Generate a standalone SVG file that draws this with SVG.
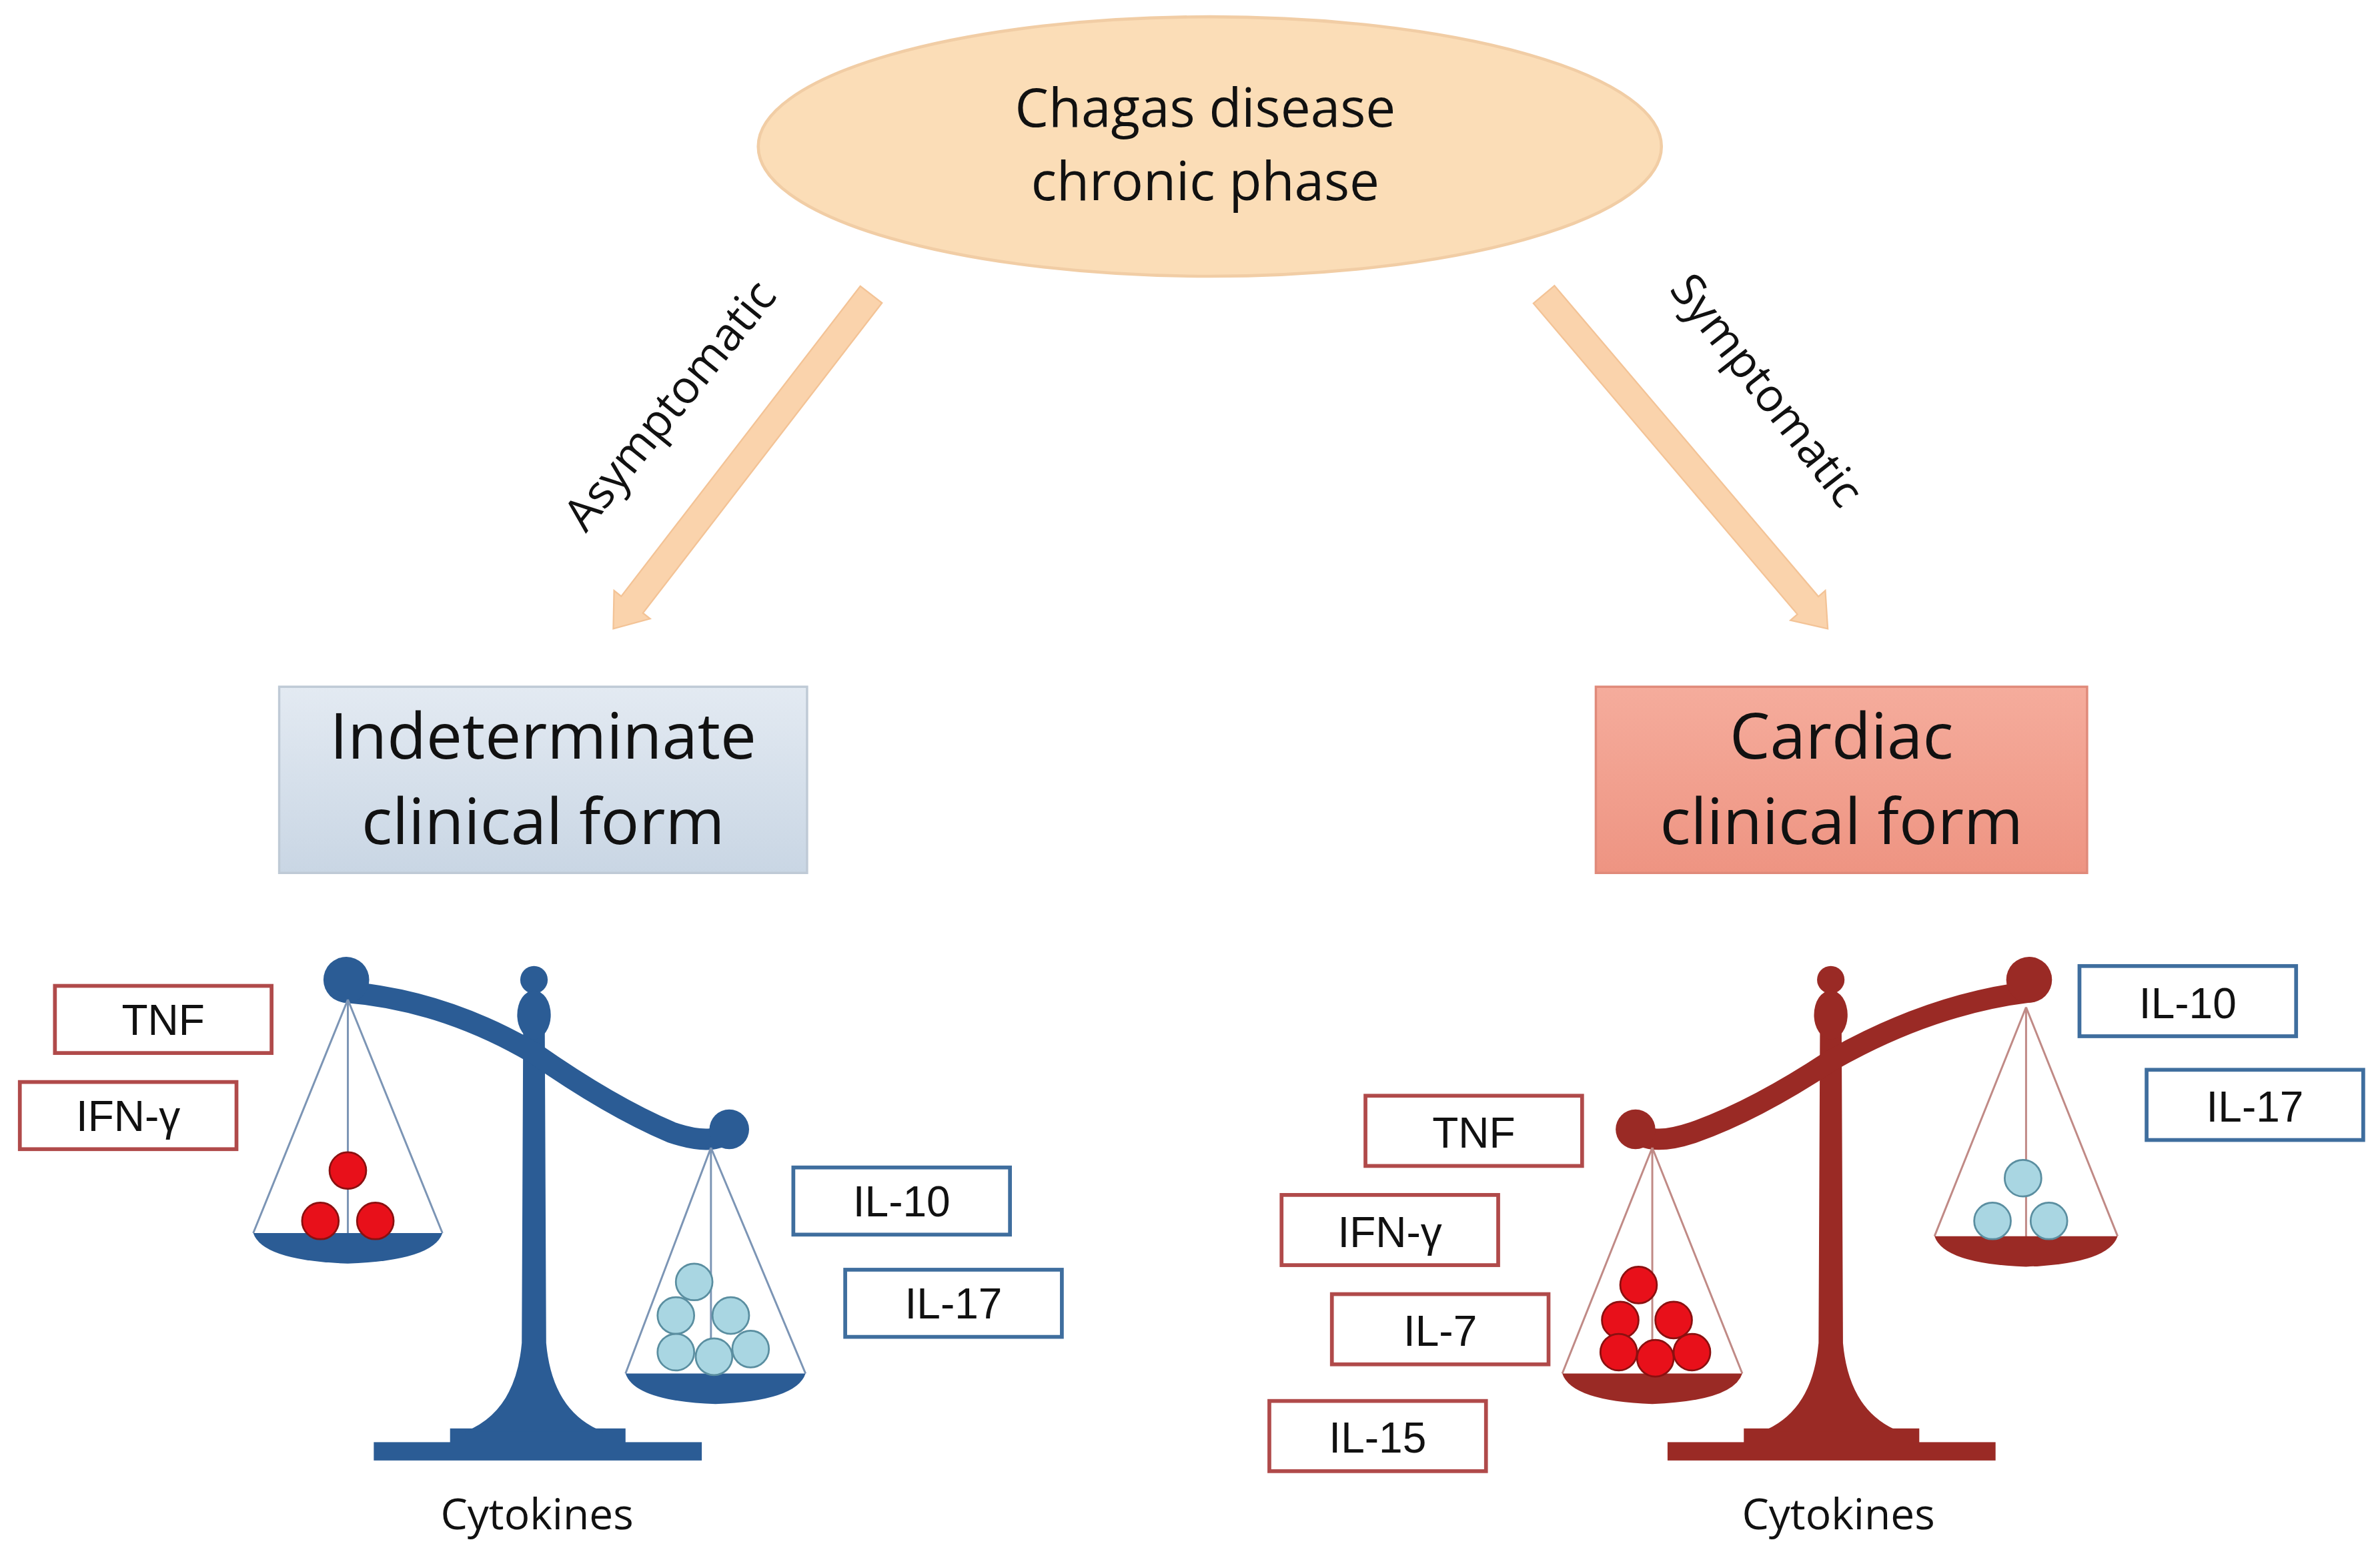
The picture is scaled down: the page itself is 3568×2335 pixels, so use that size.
<svg xmlns="http://www.w3.org/2000/svg" width="3568" height="2335" viewBox="0 0 3568 2335">
<defs>
<style>
text{font-family:"Open Sans","Liberation Sans",sans-serif;fill:#111}
.lb{font-family:"Liberation Sans",Arial,sans-serif;font-size:28px;text-anchor:middle}
.rb{fill:#fff;stroke:#B04A4A;stroke-width:2.5}
.bb{fill:#fff;stroke:#3F6E9E;stroke-width:2.5}
.rball{fill:#E8101A;stroke:#8A1010;stroke-width:1.2}
.bball{fill:#A9D6E2;stroke:#5A8EA0;stroke-width:1.2}
.str{stroke-width:1.3;fill:none}
</style>
<linearGradient id="gb" x1="0" y1="0" x2="0" y2="1"><stop offset="0" stop-color="#E3EAF2"/><stop offset="1" stop-color="#C9D6E4"/></linearGradient>
<linearGradient id="gr" x1="0" y1="0" x2="0" y2="1"><stop offset="0" stop-color="#F5AC9C"/><stop offset="1" stop-color="#EE9482"/></linearGradient>
</defs>
<rect width="3568" height="2335" fill="#fff"/>
<g transform="scale(2.2872)">
<g id="top">
<ellipse cx="793" cy="96" rx="296" ry="85" fill="#FBDDB7" stroke="#F1CDA5" stroke-width="2"/>
<text x="790" y="83" font-size="35" text-anchor="middle">Chagas disease</text>
<text x="790" y="131" font-size="35" text-anchor="middle">chronic phase</text>
</g>
<g id="connectors" fill="#FAD3AC" stroke="#F3C396" stroke-width="1">
<polygon points="578.1,198.5 421.4,401.7 426.1,405.4 402,412 402.5,387 407.2,390.7 563.9,187.5"/>
<polygon points="1018.9,187.2 1191.9,390.9 1196.4,387 1198,412 1173.6,406.4 1178.1,402.5 1005.1,198.8"/>
</g>
<text transform="translate(447,272) rotate(-51)" font-size="30" text-anchor="middle">Asymptomatic</text>
<text transform="translate(1150,262) rotate(52)" font-size="30" text-anchor="middle">Symptomatic</text>
<g id="indeterminate">
<rect x="183" y="450" width="346" height="122" fill="url(#gb)" stroke="#BFCAD6" stroke-width="1.5"/>
<text x="356" y="497" font-size="42" text-anchor="middle">Indeterminate</text>
<text x="356" y="553" font-size="42" text-anchor="middle">clinical form</text>
</g>
<g id="cardiac">
<rect x="1046" y="450" width="322" height="122" fill="url(#gr)" stroke="#E08A7A" stroke-width="1.5"/>
<text x="1207" y="497" font-size="42" text-anchor="middle">Cardiac</text>
<text x="1207" y="553" font-size="42" text-anchor="middle">clinical form</text>
</g>
<g id="balance-left" fill="#2B5C95">
<rect x="245" y="945" width="215" height="12"/>
<rect x="295" y="936" width="115" height="11"/>
<path d="M343,655 L357,655 L358,880 Q362,925 395,938 L305,938 Q338,925 342,880 Z"/>
<circle cx="350" cy="642" r="9"/><ellipse cx="350" cy="665" rx="11" ry="16"/>
<path d="M226,650 Q290,655 350,690 Q400,725 440,742 Q470,752 478,740" fill="none" stroke="#2B5C95" stroke-width="14" stroke-linecap="round"/>
<circle cx="227" cy="642" r="15"/><circle cx="478" cy="740" r="13"/>
<path class="str" stroke="#7C95B5" d="M228,655 L166,808 M228,655 L290,808 M228,655 L228,812"/>
<path d="M166,808 L290,808 Q284,826 228,828 Q172,826 166,808 Z"/>
<path class="str" stroke="#7C95B5" d="M466,752 L410,900 M466,752 L528,900 M466,752 L466,905"/>
<path d="M410,900 L528,900 Q522,918 469,920 Q416,918 410,900 Z"/>
<circle class="rball" cx="228" cy="767" r="12"/><circle class="rball" cx="210" cy="800" r="12"/><circle class="rball" cx="246" cy="800" r="12"/>
<circle class="bball" cx="455" cy="840" r="12"/><circle class="bball" cx="443" cy="862" r="12"/><circle class="bball" cx="479" cy="862" r="12"/><circle class="bball" cx="443" cy="886" r="12"/><circle class="bball" cx="468" cy="889" r="12"/><circle class="bball" cx="492" cy="884" r="12"/>
</g>
<g id="balance-right" fill="#9A2A25">
<rect x="1093" y="945" width="215" height="12"/>
<rect x="1143" y="936" width="115" height="11"/>
<path d="M1193,655 L1207,655 L1208,880 Q1212,925 1245,938 L1155,938 Q1188,925 1192,880 Z"/>
<circle cx="1200" cy="642" r="9"/><ellipse cx="1200" cy="665" rx="11" ry="16"/>
<path d="M1330,650 Q1265,658 1200,695 Q1150,728 1110,742 Q1080,752 1072,740" fill="none" stroke="#9A2A25" stroke-width="14" stroke-linecap="round"/>
<circle cx="1330" cy="642" r="15"/><circle cx="1072" cy="740" r="13"/>
<path class="str" stroke="#C08A86" d="M1083,752 L1024,900 M1083,752 L1142,900 M1083,752 L1083,905"/>
<path d="M1024,900 L1142,900 Q1136,918 1083,920 Q1030,918 1024,900 Z"/>
<path class="str" stroke="#C08A86" d="M1328,660 L1268,810 M1328,660 L1388,810 M1328,660 L1328,812"/>
<path d="M1268,810 L1388,810 Q1382,828 1328,830 Q1274,828 1268,810 Z"/>
<circle class="rball" cx="1074" cy="842" r="12"/><circle class="rball" cx="1062" cy="865" r="12"/><circle class="rball" cx="1097" cy="865" r="12"/><circle class="rball" cx="1061" cy="886" r="12"/><circle class="rball" cx="1085" cy="890" r="12"/><circle class="rball" cx="1109" cy="886" r="12"/>
<circle class="bball" cx="1326" cy="772" r="12"/><circle class="bball" cx="1306" cy="800" r="12"/><circle class="bball" cx="1343" cy="800" r="12"/>
</g>
<g id="labels-left">
<rect class="rb" x="36" y="646" width="142" height="44"/><text class="lb" x="107" y="678">TNF</text>
<rect class="rb" x="13" y="709" width="142" height="44"/><text class="lb" x="84" y="741">IFN-γ</text>
<rect class="bb" x="520" y="765" width="142" height="44"/><text class="lb" x="591" y="797">IL-10</text>
<rect class="bb" x="554" y="832" width="142" height="44"/><text class="lb" x="625" y="864">IL-17</text>
</g>
<g id="labels-right">
<rect class="bb" x="1363" y="633" width="142" height="46"/><text class="lb" x="1434" y="667">IL-10</text>
<rect class="bb" x="1407" y="701" width="142" height="46"/><text class="lb" x="1478" y="735">IL-17</text>
<rect class="rb" x="895" y="718" width="142" height="46"/><text class="lb" x="966" y="752">TNF</text>
<rect class="rb" x="840" y="783" width="142" height="46"/><text class="lb" x="911" y="817">IFN-γ</text>
<rect class="rb" x="873" y="848" width="142" height="46"/><text class="lb" x="944" y="882">IL-7</text>
<rect class="rb" x="832" y="918" width="142" height="46"/><text class="lb" x="903" y="952">IL-15</text>
</g>
<text x="352" y="1002" font-size="28" text-anchor="middle">Cytokines</text>
<text x="1205" y="1002" font-size="28" text-anchor="middle">Cytokines</text>
</g>
</svg>
